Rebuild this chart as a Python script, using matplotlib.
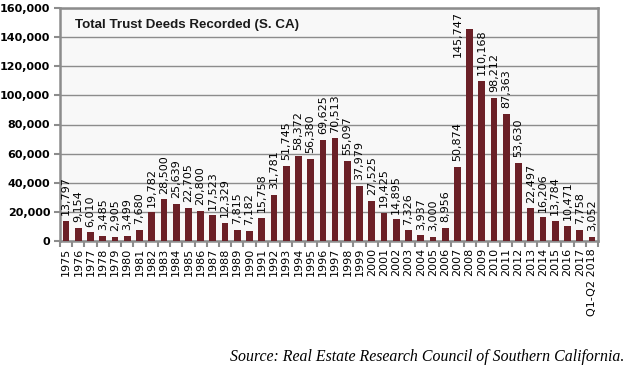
import matplotlib
matplotlib.use("Agg")
import matplotlib.pyplot as plt
from matplotlib.ticker import FuncFormatter, FixedLocator

years = ["1975", "1976", "1977", "1978", "1979", "1980", "1981", "1982", "1983", "1984",
         "1985", "1986", "1987", "1988", "1989", "1990", "1991", "1992", "1993", "1994",
         "1995", "1996", "1997", "1998", "1999", "2000", "2001", "2002", "2003", "2004",
         "2005", "2006", "2007", "2008", "2009", "2010", "2011", "2012", "2013", "2014",
         "2015", "2016", "2017", "Q1-Q2 2018"]
deeds = [13797, 9154, 6010, 3485, 2905, 3499, 7680, 19782, 28500, 25639,
         22705, 20800, 17523, 12329, 7815, 7182, 15758, 31781, 51745, 58372,
         56380, 69625, 70513, 55097, 37979, 27525, 19425, 14895, 7326, 3937,
         3000, 8956, 50874, 145747, 110168, 98212, 87363, 53630, 22497, 16206,
         13784, 10471, 7758, 3052]
yticks = [0, 20000, 40000, 60000, 80000, 100000, 120000, 140000, 160000]

title = "Total Trust Deeds Recorded (S. CA)"
source = "Source: Real Estate Research Council of Southern California."

bar_color = "#6B2027"
frame_color = "#8C8C8C"

fig = plt.figure(figsize=(6.35, 3.69), dpi=100)
ax = fig.add_axes([60/635, 1-241/369, 538/635, 233/369])
ax.set_facecolor("#F8F8F8")

x = list(range(len(years)))
ax.bar(x, deeds, width=0.55, color=bar_color, zorder=3)

ax.set_xlim(-0.5, len(years) - 0.5)
ax.set_ylim(0, 160000)
ax.set_yticks(yticks)
ax.yaxis.set_major_formatter(FuncFormatter(lambda v, p: f"{int(v):,}"))
ax.grid(axis="y", color=frame_color, linewidth=1.0, zorder=1)

ax.set_xticks(x)
ax.set_xticklabels(years, rotation=90, fontsize=8)
ax.xaxis.set_minor_locator(FixedLocator([i - 0.5 for i in range(len(years) + 1)]))
ax.tick_params(axis="x", which="major", length=0, pad=5)
ax.tick_params(axis="x", which="minor", length=4, width=1.5, color=frame_color)
ax.tick_params(axis="y", length=4, width=1.5, color=frame_color, pad=3)
for lab in ax.get_yticklabels():
    lab.set_fontsize(8)
    lab.set_fontweight("bold")

for s in ax.spines.values():
    s.set_color(frame_color)
    s.set_linewidth(1.8)

for i, v in enumerate(deeds):
    if v > 140000:
        ax.text(i - 1, 158000, f"{v:,}", rotation=90, ha="center", va="top",
                fontsize=8, zorder=4)
    else:
        ax.annotate(f"{v:,}", (i, v), xytext=(0, 4), textcoords="offset points",
                    rotation=90, ha="center", va="bottom", fontsize=8, zorder=4)

ax.text(0.028, 0.925, title, transform=ax.transAxes, ha="left", va="center",
        fontsize=9.6, family="Liberation Sans", fontweight="bold", color="#1a1a1a")

fig.text(624/635, 1-357/369, source, ha="right", va="center", fontsize=11.4,
         family="Liberation Serif", style="italic")

fig.savefig("out.png", dpi=100)
